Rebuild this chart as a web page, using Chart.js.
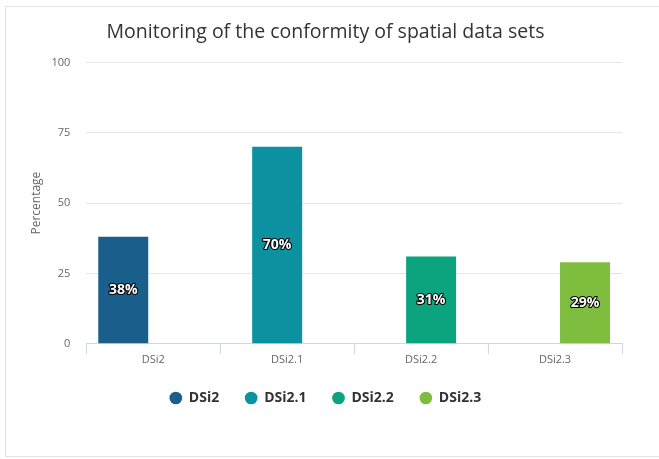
<!DOCTYPE html>
<html>
<head>
<meta charset="utf-8">
<script src="https://cdn.jsdelivr.net/npm/chart.js@4"></script>
<style>
  html, body { margin: 0; padding: 0; background: #fff; overflow: hidden; }
  #frame {
    position: absolute; left: 5px; top: 6px; width: 700px; height: 449px;
    border: 1px solid #e3e3e3; border-right: none;
  }
  #wrap { position: absolute; left: 0; top: 0; width: 659px; height: 459px; }
</style>
</head>
<body>
<div id="frame"></div>
<div id="wrap"><canvas id="chart"></canvas></div>
<script>
// data
const categories = ['DSi2', 'DSi2.1', 'DSi2.2', 'DSi2.3'];
const seriesNames = ['DSi2', 'DSi2.1', 'DSi2.2', 'DSi2.3'];
const seriesValues = [38, 70, 31, 29];
const seriesColors = ['#1a5f8c', '#0b919f', '#0ca47e', '#7fbd3e'];
const yTicks = [0, 25, 50, 75, 100];

const font = "'Open Sans', 'DejaVu Sans', sans-serif";

// each series only has a value in its own category
const datasets = seriesNames.map((name, i) => ({
  label: name,
  data: categories.map((c, j) => (j === i ? seriesValues[i] : null)),
  backgroundColor: seriesColors[i],
  borderWidth: 0
}));

// labels in the middle of the bars
const barLabels = {
  id: 'barLabels',
  afterDatasetsDraw(chart) {
    const ctx = chart.ctx;
    ctx.save();
    ctx.font = 'bold 14px ' + font;
    ctx.textAlign = 'center';
    ctx.textBaseline = 'middle';
    ctx.lineJoin = 'round';
    chart.data.datasets.forEach((ds, i) => {
      const meta = chart.getDatasetMeta(i);
      meta.data.forEach((bar, j) => {
        const v = ds.data[j];
        if (v == null) return;
        const y = (bar.y + bar.base) / 2;
        const txt = v + '%';
        ctx.strokeStyle = '#000';
        ctx.lineWidth = 2.2;
        ctx.strokeText(txt, bar.x, y);
        ctx.fillStyle = '#fff';
        ctx.fillText(txt, bar.x, y);
      });
    });
    ctx.restore();
  }
};

new Chart(document.getElementById('chart'), {
  type: 'bar',
  data: { labels: categories, datasets: datasets },
  plugins: [barLabels],
  options: {
    responsive: true,
    maintainAspectRatio: false,
    animation: false,
    categoryPercentage: 0.597,
    barPercentage: 2.5,
    layout: { padding: { top: 17, left: 29, right: 37, bottom: 44 } },
    plugins: {
      title: {
        display: true,
        text: 'Monitoring of the conformity of spatial data sets',
        color: '#333',
        font: { family: font, size: 19.5, weight: 'normal' },
        padding: { top: 4, bottom: 18 }
      },
      legend: {
        position: 'bottom',
        labels: {
          usePointStyle: true,
          pointStyle: 'circle',
          boxWidth: 12,
          boxHeight: 9,
          padding: 26,
          color: '#333',
          font: { family: font, size: 14, weight: 'bold' }
        }
      },
      tooltip: { enabled: false }
    },
    scales: {
      x: {
        grid: {
          offset: true,
          drawOnChartArea: false,
          drawTicks: true,
          tickLength: 10,
          color: '#ccd6eb'
        },
        border: { display: true, color: '#ccd6eb' },
        ticks: { color: '#666', font: { family: font, size: 11 }, padding: -1 }
      },
      y: {
        min: 0,
        max: 100,
        afterBuildTicks: (axis) => { axis.ticks = yTicks.map(v => ({ value: v })); },
        grid: { color: '#e6e6e6', drawTicks: false },
        border: { display: false },
        ticks: { color: '#666', font: { family: font, size: 11 }, padding: 16 },
        title: {
          display: true,
          text: 'Percentage',
          color: '#666',
          font: { family: font, size: 12 },
          padding: { top: 0, bottom: -8 }
        }
      }
    }
  }
});
</script>
</body>
</html>
